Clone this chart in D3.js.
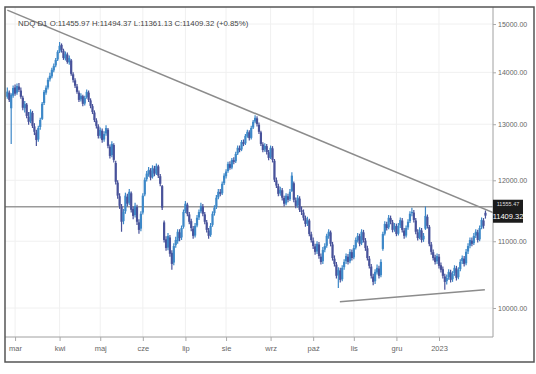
<!DOCTYPE html>
<html><head><meta charset="utf-8">
<script src="https://cdn.jsdelivr.net/npm/d3@7"></script>
<style>html,body{margin:0;padding:0;background:#fff;} svg{display:block;font-family:"Liberation Sans",Arial,sans-serif;}</style>
</head><body><svg id="c" width="536" height="374"></svg>
<script>
const startDate = "2022-02-23";
const opens = [
13520,13600,13300,13540,13700,13600,13720,13640,13500,13300,
13370,13140,13060,13210,12960,12850,12720,12950,13100,13400,
13600,13700,13860,13920,14040,14140,14260,14420,14560,14440,
14280,14360,14200,14240,13960,13840,13720,13600,13470,13530,
13390,13510,13600,13450,13340,13220,13070,12960,12790,12880,
12720,12830,12900,12590,12440,12620,12300,11960,11730,11560,
11320,11480,11720,11620,11780,11520,11420,11550,11300,11200,
11460,11760,12020,12100,12170,12060,12200,12120,12240,12070,
11900,11300,11030,10900,11060,10820,10670,10940,11000,11140,
11060,11230,11480,11590,11430,11320,11200,11090,11250,11380,
11480,11560,11430,11300,11170,11100,11260,11450,11550,11710,
11800,11780,11950,12070,12160,12280,12220,12350,12330,12470,
12560,12540,12670,12650,12780,12850,12750,12940,13050,13110,
12990,12850,12630,12540,12600,12490,12400,12560,12340,12000,
11900,11780,11830,11700,11610,11730,11680,11820,11950,11660,
11580,11690,11500,11460,11370,11280,11330,11110,11010,10920,
10840,10950,10760,10690,10870,10930,11080,11140,10950,10730,
10640,10480,10550,10420,10600,10690,10760,10690,10830,10750,
10900,11010,11080,10970,11140,11010,10890,10730,10610,10460,
10390,10520,10580,10480,10880,11120,11270,11220,11370,11300,
11190,11240,11120,11250,11330,11170,11090,11220,11320,11450,
11460,11330,11140,11060,11170,11030,11200,11390,11230,10950,
10830,10750,10690,10760,10630,10570,10460,10390,10450,10520,
10420,10510,10580,10450,10570,10690,10730,10660,10840,10930,
11010,10970,11090,11140,11030,11220,11330,11455.97];
const highs = [
13700,13640,13590,13740,13760,13780,13790,13700,13540,13440,
13400,13230,13280,13250,13020,12900,12970,13120,13420,13650,
13740,13890,13990,14090,14180,14290,14450,14620,14590,14480,
14420,14400,14340,14270,14000,13880,13770,13640,13590,13560,
13540,13660,13640,13490,13380,13260,13110,13000,12940,12920,
12870,12980,12930,12630,12690,12650,12340,12000,11780,11600,
11520,11790,11770,11850,11810,11560,11620,11590,11350,11480,
11780,12050,12160,12230,12210,12260,12250,12290,12270,12110,
11920,11330,11080,11130,11100,10860,10970,11070,11190,11190,
11250,11510,11650,11620,11470,11360,11240,11290,11420,11510,
11620,11600,11470,11340,11210,11290,11480,11580,11750,11850,
11850,11980,12120,12190,12320,12330,12390,12400,12500,12610,
12610,12710,12720,12820,12900,12890,12970,13080,13170,13150,
13030,12880,12670,12650,12640,12530,12610,12600,12370,12050,
11940,11890,11870,11740,11780,11770,11850,12140,11980,11710,
11750,11730,11560,11510,11410,11390,11360,11150,11060,10960,
11000,10990,10810,10910,10970,11120,11190,11170,10990,10780,
10680,10600,10590,10630,10720,10810,10800,10880,10870,10940,
11060,11130,11120,11190,11180,11050,10930,10770,10650,10500,
10570,10640,10620,10720,11150,11320,11310,11420,11410,11340,
11290,11280,11290,11380,11370,11210,11250,11350,11480,11540,
11500,11370,11190,11220,11210,11130,11560,11430,11260,10990,
10870,10790,10810,10800,10670,10610,10500,10490,10570,10560,
10540,10630,10620,10600,10720,10780,10770,10880,10970,11060,
11060,11130,11190,11180,11250,11380,11370,11494.37];
const lows = [
13480,13420,12640,13500,13540,13560,13610,13480,13260,13220,
13110,12990,13020,12930,12800,12600,12680,12900,13080,13360,
13560,13660,13820,13880,14000,14100,14230,14390,14400,14250,
14240,14170,14150,13930,13800,13690,13580,13420,13430,13340,
13350,13480,13420,13300,13190,13040,12920,12740,12740,12660,
12680,12790,12560,12380,12400,12310,11930,11690,11520,11150,
11270,11440,11560,11580,11460,11350,11380,11260,11120,11160,
11430,11730,11980,12060,12000,12030,12070,12090,12040,11900,
11500,10980,10850,10860,10760,10560,10630,10900,10960,11000,
11020,11200,11450,11400,11270,11160,11040,11060,11220,11340,
11450,11400,11270,11140,11040,11070,11230,11410,11520,11680,
11730,11750,11920,12030,12130,12180,12190,12280,12300,12440,
12490,12510,12600,12620,12750,12700,12720,12910,13020,12960,
12820,12600,12490,12500,12450,12350,12370,12310,11970,11870,
11730,11740,11660,11560,11580,11630,11650,11800,11630,11530,
11540,11470,11420,11330,11230,11240,11080,10980,10880,10790,
10800,10730,10640,10650,10830,10900,11040,10920,10700,10610,
10430,10290,10370,10390,10560,10650,10640,10660,10700,10720,
10870,10980,10920,10940,10980,10850,10700,10580,10430,10330,
10350,10490,10430,10450,10850,11090,11170,11190,11270,11140,
11150,11080,11090,11210,11140,11040,11060,11180,11290,11400,
11300,11110,11010,11030,10980,10990,11180,11200,10920,10790,
10700,10640,10650,10580,10520,10430,10265,10340,10410,10370,
10380,10470,10400,10420,10540,10650,10610,10630,10800,10890,
10920,10940,11050,10980,11000,11190,11200,11361.13];
const closes = [
13620,13460,13560,13690,13580,13730,13655,13520,13310,13385,
13155,13045,13230,12970,12860,12710,12930,13080,13385,13615,
13695,13850,13930,14050,14130,14250,14415,14540,14455,14290,
14375,14210,14290,13970,13850,13735,13615,13460,13540,13385,
13500,13615,13460,13345,13230,13080,12970,12785,12895,12710,
12820,12930,12605,12425,12640,12355,11975,11740,11570,11310,
11470,11740,11605,11805,11505,11405,11570,11310,11180,11440,
11740,12010,12115,12180,12045,12215,12115,12250,12080,11940,
11540,11020,10895,11085,10805,10650,10925,11020,11150,11050,
11210,11470,11605,11440,11310,11210,11085,11245,11375,11470,
11570,11440,11310,11180,11085,11245,11440,11540,11705,11805,
11770,11940,12080,12150,12285,12215,12355,12320,12460,12570,
12530,12675,12640,12785,12860,12745,12930,13045,13120,13005,
12860,12640,12530,12605,12495,12390,12570,12355,12010,11910,
11770,11840,11705,11605,11740,11670,11805,12080,11670,11570,
11705,11505,11470,11375,11275,11340,11115,11020,10925,10835,
10960,10770,10680,10865,10925,11085,11150,10960,10740,10650,
10470,10560,10410,10590,10680,10770,10680,10835,10740,10895,
11020,11085,10960,11150,11020,10895,10740,10620,10470,10380,
10530,10590,10470,10680,11115,11275,11210,11375,11310,11180,
11245,11115,11245,11340,11180,11085,11210,11310,11440,11470,
11340,11150,11050,11180,11020,11085,11405,11245,10960,10835,
10740,10680,10770,10620,10560,10470,10380,10440,10530,10410,
10500,10590,10440,10560,10680,10740,10650,10835,10925,11020,
10960,11085,11150,11020,11210,11340,11245,11409.32];
const yTicks = [10000, 11000, 12000, 13000, 14000, 15000];
const monthStarts = ["2022-03-01","2022-04-01","2022-05-01","2022-06-01","2022-07-01","2022-08-01","2022-09-01","2022-10-01","2022-11-01","2022-12-01","2023-01-01"];
const monthLabels = ["mar","kwi","maj","cze","lip","sie","wrz","paź","lis","gru","2023"];
const header = "NDQ D1 O:11455.97 H:11494.37 L:11361.13 C:11409.32 (+0.85%)";
const levelValue = 11555.47;
const levelLabel = "11555.47";
const lastLabel = "11409.32";
const upperTrend = [[0, 15300], [250.9, 11460]];
const lowerTrend = [[171.8, 10090], [246.7, 10265]];

// trading-day dates (weekdays) for tick placement
const dates = [];
{ let d = new Date(startDate + "T00:00:00Z");
  while (dates.length < closes.length) { const w = d.getUTCDay(); if (w !== 0 && w !== 6) dates.push(new Date(d)); d.setUTCDate(d.getUTCDate() + 1); } }
const tickIdx = monthStarts.map(m => { const t = new Date(m + "T00:00:00Z"); return dates.findIndex(dt => dt >= t); });

const L = 5, R = 493, T = 7, B = 337;
const svg = d3.select("#c");
const x = d3.scaleLinear().domain([-1.2, 250.9]).range([L, R]);
const y = d3.scaleLog().domain([10000, 15000]).range([308, 24]);

svg.append("defs").append("clipPath").attr("id", "clip").append("rect").attr("x", L).attr("y", T).attr("width", R - L).attr("height", B - T);

// grid
const g = svg.append("g");
g.selectAll("line.v").data(tickIdx).join("line").attr("x1", d => x(d)).attr("x2", d => x(d)).attr("y1", T).attr("y2", B).attr("stroke", "#f0f0f0");
g.selectAll("line.h").data(yTicks).join("line").attr("x1", L).attr("x2", R).attr("y1", d => y(d)).attr("y2", d => y(d)).attr("stroke", "#f0f0f0");

const plot = svg.append("g").attr("clip-path", "url(#clip)");
// horizontal level
plot.append("line").attr("x1", L).attr("x2", R).attr("y1", y(levelValue)).attr("y2", y(levelValue)).attr("stroke", "#9a9a9a").attr("stroke-width", 1.6);

// candles
const idx = d3.range(closes.length);
const upC = "#3d88c8", dnC = "#48529a";
const col = i => closes[i] >= opens[i] ? upC : dnC;
plot.selectAll("line.w").data(idx).join("line")
  .attr("x1", i => x(i)).attr("x2", i => x(i))
  .attr("y1", i => y(highs[i])).attr("y2", i => y(lows[i]))
  .attr("stroke", col).attr("stroke-width", 1.2);
plot.selectAll("rect.b").data(idx).join("rect")
  .attr("x", i => x(i) - 1.1).attr("width", 2.2)
  .attr("y", i => y(Math.max(opens[i], closes[i])))
  .attr("height", i => Math.max(1.2, Math.abs(y(opens[i]) - y(closes[i]))))
  .attr("fill", col);

// trendlines
const tl = d3.line().x(d => x(d[0])).y(d => y(d[1]));
plot.append("path").attr("d", tl(upperTrend)).attr("stroke", "#8c8c8c").attr("stroke-width", 1.6).attr("fill", "none");
plot.append("path").attr("d", tl(lowerTrend)).attr("stroke", "#8c8c8c").attr("stroke-width", 1.6).attr("fill", "none");

// axes
svg.append("line").attr("x1", R).attr("x2", R).attr("y1", T).attr("y2", B).attr("stroke", "#a0a0a0");
svg.append("line").attr("x1", L).attr("x2", R).attr("y1", B).attr("y2", B).attr("stroke", "#a0a0a0");
const ya = svg.append("g").attr("transform", `translate(${R},0)`)
  .call(d3.axisRight(y).tickValues(yTicks).tickFormat(d3.format(".2f")).tickSize(3).tickPadding(2));
ya.select(".domain").remove();
ya.selectAll("line").attr("stroke", "#aaa");
ya.selectAll("text").attr("fill", "#666").style("font-size", "7px").style("font-family", "Liberation Sans, Arial");
const xa = svg.append("g").attr("transform", `translate(0,${B})`)
  .call(d3.axisBottom(x).tickValues(tickIdx).tickFormat((d, i) => monthLabels[i]).tickSize(4).tickPadding(5));
xa.select(".domain").remove();
xa.selectAll("line").attr("stroke", "#aaa");
xa.selectAll("text").attr("fill", "#666").style("font-size", "7.5px").style("font-family", "Liberation Sans, Arial");

// price label
svg.append("rect").attr("x", R).attr("y", y(levelValue) - 7).attr("width", 30).attr("height", 23).attr("fill", "#1c1c1c");
svg.append("text").attr("x", R + 15).attr("y", y(levelValue) - 0.5).attr("text-anchor", "middle").attr("fill", "#ddd").style("font-size", "5.5px").text(levelLabel);
svg.append("text").attr("x", R + 15).attr("y", y(levelValue) + 12).attr("text-anchor", "middle").attr("fill", "#fff").style("font-size", "7.5px").text(lastLabel);

// header
svg.append("text").attr("x", 18).attr("y", 26).attr("fill", "#444").style("font-size", "7.8px").text(header);

// outer border
svg.append("rect").attr("x", L).attr("y", T).attr("width", 529).attr("height", 355).attr("fill", "none").attr("stroke", "#555").attr("stroke-width", 1.5);
</script></body></html>
